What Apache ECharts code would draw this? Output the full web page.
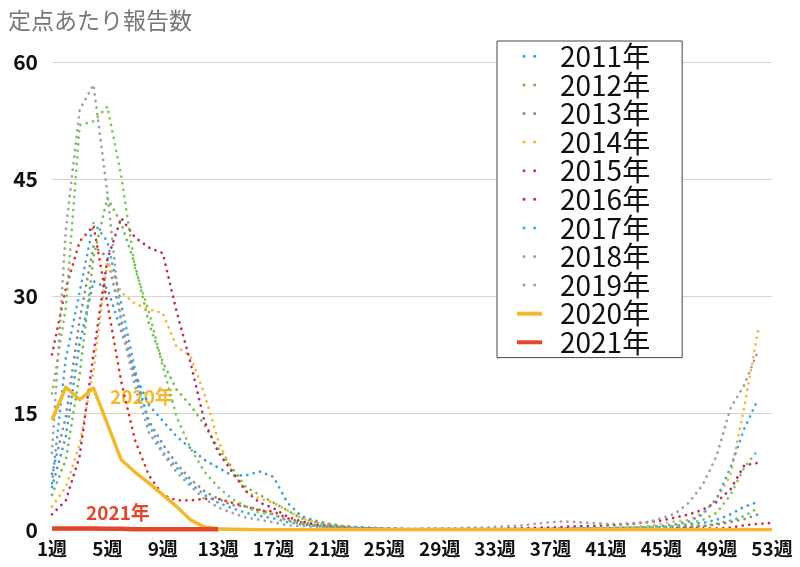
<!DOCTYPE html>
<html>
<head>
<meta charset="utf-8">
<script src="https://cdn.jsdelivr.net/npm/echarts@6/dist/echarts.min.js"></script>
<style>
  html, body { margin: 0; padding: 0; background: #fff; }
  #main { width: 800px; height: 567px; }
</style>
</head>
<body>
<div id="main"></div>
<script>
  // 週ラベル 1週..53週
  var weeks = [];
  for (var w = 1; w <= 53; w++) { weeks.push(w + '週'); }

  var yTicks = [0, 15, 30, 45, 60];

  var years = ['2011年', '2012年', '2013年', '2014年', '2015年', '2016年', '2017年', '2018年', '2019年', '2020年', '2021年'];
  var colors = ['#3c9ddc', '#6cc04a', '#8a8a8a', '#f4b731', '#e2321f', '#b22f6b', '#45a6e0', '#7cc75a', '#a0a0a0', '#f2b92e', '#e2472a'];

  var s2011 = [5.5, 12.0, 24.0, 31.9, 31.0, 25.5, 20.0, 16.0, 14.0, 12.0, 10.5, 9.0, 8.0, 7.0, 7.0, 7.5, 6.8, 3.5, 1.8, 1.2,
    0.8, 0.5, 0.4, 0.3, 0.2, 0.2, 0.1, 0.1, 0.1, 0.1, 0.1, 0.1, 0.1, 0.1, 0.1, 0.1, 0.1, 0.1, 0.1, 0.1,
    0.2, 0.2, 0.2, 0.3, 0.4, 0.5, 0.7, 0.9, 1.3, 2.0, 3.0, 3.6, null];
  var s2012 = [4.5, 9.0, 20.0, 35.0, 42.6, 39.3, 34.0, 26.5, 21.5, 18.0, 16.0, 13.5, 10.5, 8.0, 5.5, 4.5, 3.5, 2.5, 1.5, 1.0,
    0.7, 0.5, 0.3, 0.2, 0.2, 0.1, 0.1, 0.1, 0.1, 0.1, 0.1, 0.1, 0.1, 0.1, 0.1, 0.1, 0.1, 0.1, 0.1, 0.1,
    0.1, 0.2, 0.2, 0.2, 0.3, 0.3, 0.4, 0.5, 0.8, 1.2, 1.8, 2.8, null];
  var s2013 = [7.2, 14.5, 27.0, 36.4, 35.0, 27.0, 19.5, 14.0, 11.0, 8.5, 6.5, 5.0, 4.0, 3.2, 3.0, 2.6, 2.0, 1.2, 0.8, 0.5,
    0.4, 0.3, 0.2, 0.2, 0.1, 0.1, 0.1, 0.1, 0.1, 0.1, 0.1, 0.1, 0.1, 0.1, 0.1, 0.1, 0.1, 0.1, 0.1, 0.1,
    0.1, 0.1, 0.2, 0.2, 0.3, 0.3, 0.4, 0.5, 0.7, 1.0, 1.4, 2.0, null];
  var s2014 = [3.0, 5.5, 11.0, 20.5, 34.4, 30.5, 29.0, 28.3, 27.8, 23.5, 22.3, 17.5, 11.5, 7.5, 5.0, 4.0, 3.5, 2.5, 1.5, 1.0,
    0.7, 0.5, 0.3, 0.2, 0.2, 0.1, 0.1, 0.1, 0.1, 0.1, 0.1, 0.1, 0.1, 0.1, 0.1, 0.1, 0.1, 0.2, 0.2, 0.2,
    0.3, 0.3, 0.4, 0.5, 0.8, 1.1, 1.3, 2.2, 4.0, 7.0, 15.8, 25.6, null];
  var s2015 = [22.5, 31.0, 37.0, 39.0, 29.0, 19.0, 11.5, 7.0, 4.5, 3.8, 3.8, 4.0, 4.0, 3.5, 3.0, 2.5, 2.4, 1.5, 1.0, 0.6,
    0.4, 0.3, 0.2, 0.2, 0.1, 0.1, 0.1, 0.1, 0.1, 0.1, 0.1, 0.1, 0.1, 0.1, 0.1, 0.1, 0.1, 0.1, 0.1, 0.1,
    0.1, 0.1, 0.1, 0.1, 0.1, 0.2, 0.2, 0.2, 0.2, 0.3, 0.6, 0.8, 0.9];
  var s2016 = [2.0, 3.8, 9.5, 22.6, 34.7, 40.0, 37.5, 36.2, 35.5, 28.0, 21.5, 14.0, 10.0, 7.5, 5.0, 3.5, 2.8, 1.7, 1.1, 0.7,
    0.5, 0.3, 0.2, 0.2, 0.1, 0.1, 0.1, 0.1, 0.1, 0.1, 0.1, 0.1, 0.1, 0.2, 0.2, 0.3, 0.3, 0.4, 0.5, 0.5,
    0.6, 0.7, 0.8, 1.0, 1.2, 1.6, 2.0, 2.6, 3.6, 5.2, 8.3, 8.6, null];
  var s2017 = [6.0, 22.0, 30.5, 39.4, 37.0, 29.0, 20.5, 13.5, 10.0, 8.0, 6.0, 4.5, 3.5, 2.8, 2.2, 1.8, 1.5, 1.0, 0.7, 0.5,
    0.4, 0.3, 0.2, 0.2, 0.1, 0.1, 0.1, 0.1, 0.1, 0.1, 0.1, 0.1, 0.1, 0.1, 0.1, 0.1, 0.1, 0.1, 0.2, 0.2,
    0.2, 0.3, 0.3, 0.4, 0.5, 0.7, 1.1, 2.0, 4.0, 8.0, 13.0, 16.8, null];
  var s2018 = [17.5, 28.5, 51.9, 52.4, 54.3, 45.4, 33.5, 28.0, 21.0, 14.5, 10.5, 7.5, 5.5, 4.0, 3.0, 2.2, 2.0, 1.3, 0.9, 0.6,
    0.4, 0.3, 0.2, 0.2, 0.1, 0.1, 0.1, 0.1, 0.1, 0.1, 0.1, 0.1, 0.1, 0.1, 0.1, 0.1, 0.2, 0.2, 0.2, 0.2,
    0.2, 0.3, 0.3, 0.4, 0.4, 0.5, 0.8, 1.3, 2.2, 4.5, 8.0, 10.3, null];
  var s2019 = [9.9, 38.5, 53.9, 57.1, 43.2, 26.3, 18.4, 12.5, 9.8, 7.4, 5.6, 4.0, 2.9, 2.2, 1.6, 1.3, 1.0, 0.6, 0.5, 0.4,
    0.3, 0.2, 0.2, 0.1, 0.1, 0.1, 0.1, 0.2, 0.2, 0.2, 0.3, 0.3, 0.4, 0.5, 0.6, 0.8, 1.0, 1.1, 1.0, 0.9,
    0.8, 0.8, 0.9, 1.0, 1.5, 2.1, 3.5, 5.8, 9.5, 15.6, 18.6, 23.0, null];
  var s2020 = [14.1, 18.3, 16.7, 18.2, 13.6, 9.0, 7.4, 6.0, 4.5, 3.0, 1.3, 0.4, 0.15, 0.1, 0.05, 0.03, 0.02, 0.02, 0.02, 0.02,
    0.02, 0.02, 0.02, 0.02, 0.02, 0.02, 0.02, 0.02, 0.02, 0.02, 0.02, 0.02, 0.02, 0.02, 0.02, 0.02, 0.02, 0.02, 0.02, 0.02,
    0.02, 0.02, 0.02, 0.02, 0.02, 0.02, 0.02, 0.02, 0.02, 0.02, 0.02, 0.02, 0.02];
  var s2021 = [0.2, 0.2, 0.2, 0.2, 0.15, 0.15, 0.1, 0.1, 0.1, 0.1, 0.1, 0.1, 0.1];

  var allData = [s2011, s2012, s2013, s2014, s2015, s2016, s2017, s2018, s2019, s2020, s2021];

  var series = [];
  var legendData = [];
  for (var i = 0; i < years.length; i++) {
    var solid = i >= 9;
    series.push({
      name: years[i],
      type: 'line',
      data: allData[i],
      symbol: 'none',
      smooth: false,
      connectNulls: false,
      z: solid ? 10 + i : 2,
      lineStyle: solid
        ? { color: colors[i], width: i == 10 ? 4.5 : 3.5, join: 'round' }
        : { color: colors[i], width: 2.7, type: [0.1, 6.5], cap: 'round' },
      itemStyle: { color: colors[i] }
    });
    legendData.push({
      name: years[i],
      itemStyle: { opacity: 0 },
      lineStyle: solid
        ? { color: colors[i], width: 4, type: 'solid' }
        : { color: colors[i], width: 3, type: [0.1, 10.5], cap: 'round', dashOffset: 3.6 }
    });
  }

  var option = {
    backgroundColor: '#fff',
    animation: false,
    title: {
      text: '定点あたり報告数',
      left: 3, top: 4,
      textStyle: { fontFamily: 'Noto Sans CJK JP', fontSize: 23, fontWeight: 'normal', color: '#777' }
    },
    grid: { left: 52, right: 28, top: 62, bottom: 37, containLabel: false },
    legend: {
      orient: 'vertical',
      left: 497, top: 41,
      data: legendData,
      itemWidth: 25, itemHeight: 14, itemGap: 0,
      padding: [1, 32, 1, 18],
      backgroundColor: '#fff',
      borderColor: '#444', borderWidth: 1,
      selectedMode: false,
      textStyle: {
        fontFamily: 'Noto Sans CJK JP', fontSize: 28, color: '#111',
        lineHeight: 28.6, padding: [0, 0, 0, 13]
      }
    },
    xAxis: {
      type: 'category',
      data: weeks,
      boundaryGap: false,
      axisLine: { show: true, lineStyle: { color: '#d0d0d0' } },
      axisTick: { show: false },
      axisLabel: {
        interval: 3, margin: 9,
        fontFamily: 'Noto Sans CJK JP', fontSize: 19, fontWeight: 'bold', color: '#111'
      },
      splitLine: { show: false }
    },
    yAxis: {
      type: 'value',
      min: yTicks[0], max: yTicks[yTicks.length - 1], interval: 15,
      axisLine: { show: false },
      axisTick: { show: false },
      axisLabel: {
        margin: 14,
        fontFamily: 'Noto Sans CJK JP', fontSize: 21, fontWeight: 'bold', color: '#111'
      },
      splitLine: { lineStyle: { color: '#d5d5d5', width: 1 } }
    },
    graphic: [
      { type: 'text', left: 110, top: 387,
        style: { text: '2020年', fill: '#f2b92e', font: 'bold 19px "Noto Sans CJK JP"' } },
      { type: 'text', left: 86, top: 503,
        style: { text: '2021年', fill: '#e2472a', font: 'bold 19px "Noto Sans CJK JP"' } }
    ],
    series: series
  };

  var myChart = echarts.init(document.getElementById('main'));
  myChart.setOption(option);
</script>
</body>
</html>
